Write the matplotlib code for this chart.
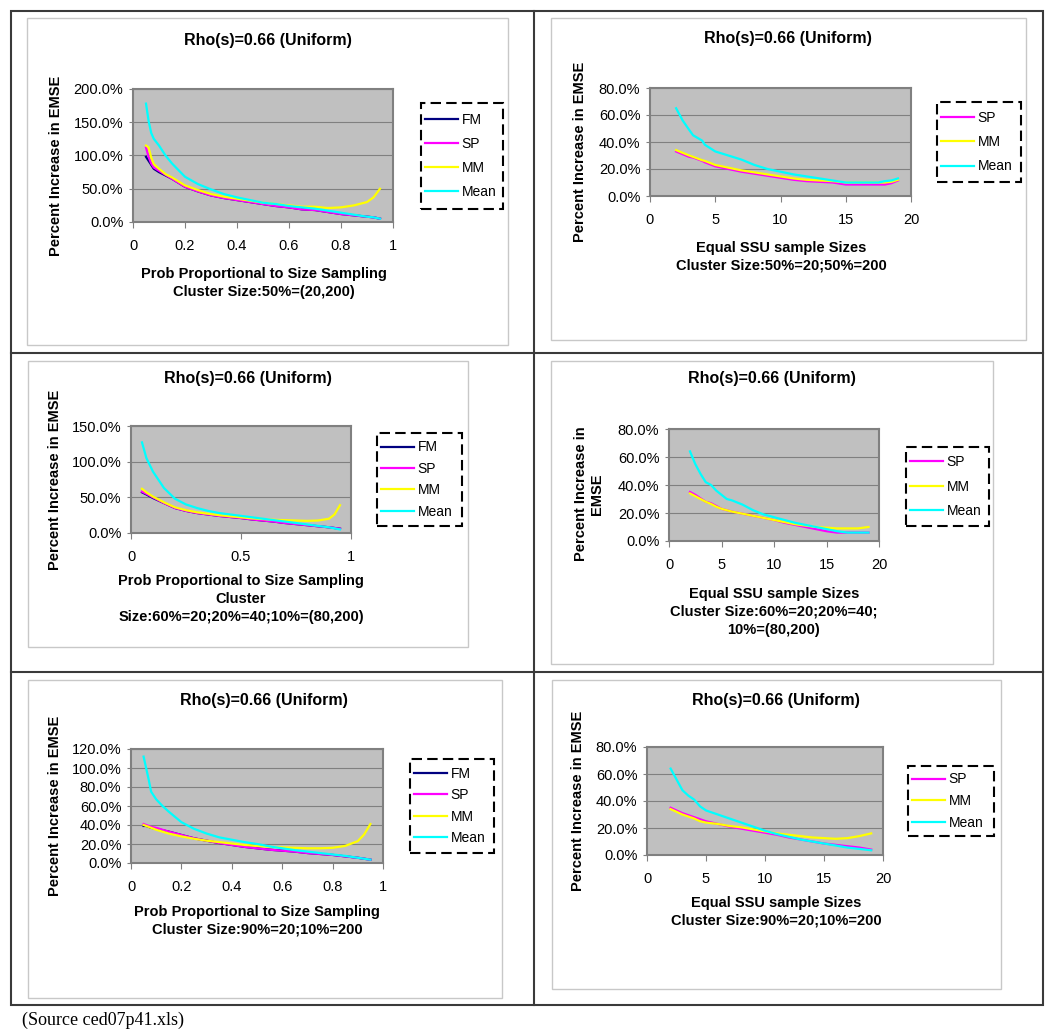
import matplotlib
matplotlib.use("Agg")
import numpy as np
import matplotlib.pyplot as plt
from matplotlib.patches import Rectangle
from matplotlib.lines import Line2D
from matplotlib.ticker import FuncFormatter

plt.rcParams["font.family"] = ["Liberation Sans", "DejaVu Sans"]

# ---- data (percent increase in EMSE) ----
# PPS panels, x = sampling fraction
p1_x = [0.05, 0.06, 0.07, 0.08, 0.1, 0.125, 0.15, 0.175, 0.2, 0.25, 0.3, 0.35, 0.4,
        0.45, 0.5, 0.55, 0.6, 0.65, 0.7, 0.75, 0.8, 0.85, 0.9, 0.925, 0.95]
p1_fm = [98, 92, 86, 80, 75, 70, 65, 59, 53, 46, 40, 36, 33, 30, 27, 24, 22, 19, 18, 15, 12, 10, 8, 7, 5]
p1_sp = [112, 98, 88, 82, 77, 71, 65, 59, 53, 46, 40, 36, 33, 30, 27, 24, 22, 19, 18, 15, 12, 10, 8, 7, 5]
p1_mm = [115, 112, 97, 87, 80, 72, 67, 61, 55, 48, 42, 38, 35, 32, 29, 27, 25, 23, 23, 21, 22, 25, 30, 37, 50]
p1_mean = [178, 152, 134, 125, 115, 100, 88, 78, 68, 57, 49, 42, 37, 33, 29, 27, 24, 22, 20, 17, 14, 11, 8, 7, 5]

p3_x = [0.05, 0.07, 0.1, 0.15, 0.2, 0.25, 0.3, 0.35, 0.4, 0.45, 0.5, 0.55, 0.6, 0.65,
        0.7, 0.75, 0.8, 0.85, 0.9, 0.925, 0.95]
p3_fm = [57, 54, 49, 42, 35, 31, 28, 26, 24, 22.5, 21, 19, 17.5, 16, 14, 12.5, 11, 9.5, 8, 7, 6]
p3_sp = [58, 55, 50, 42, 35, 31, 28, 26, 24, 22.5, 21, 19, 17.5, 16, 14, 12.5, 11, 9.5, 8, 7, 6]
p3_mm = [62, 57, 51, 43, 36, 32, 29, 27, 25, 23.5, 22, 20.5, 19.5, 18.5, 18, 17.5, 17, 17.5, 20, 26, 39]
p3_mean = [127, 105, 86, 63, 48, 40, 35, 31, 28, 26, 24, 22, 20, 18, 16, 14, 12, 10, 8, 6.5, 5]

p5_x = [0.05, 0.06, 0.07, 0.08, 0.1, 0.125, 0.15, 0.2, 0.25, 0.3, 0.35, 0.4, 0.45, 0.5,
        0.55, 0.6, 0.65, 0.7, 0.75, 0.8, 0.85, 0.9, 0.925, 0.95]
p5_fm = [39, 39, 38, 37, 36, 34.5, 33, 29.5, 26, 23.5, 21, 19, 17, 15.5, 14, 13, 12, 10.5, 9.5, 8.5, 7, 5.5, 4.5, 3.5]
p5_sp = [41, 40, 39, 38, 37, 35, 33, 29.5, 26, 23.5, 21, 19, 17, 15.5, 14, 13, 12, 10.5, 9.5, 8.5, 7, 5.5, 4.5, 3.5]
p5_mm = [40, 39, 38, 37, 35, 33, 31, 28, 25.5, 23.5, 22, 20.5, 19, 18, 17, 16.5, 16, 15.5, 15.5, 16, 18, 23, 30, 41]
p5_mean = [112, 100, 88, 75, 67, 60, 54, 43, 36, 31, 27, 24.5, 22, 20, 17.5, 15.5, 13.5, 12, 10.5, 9, 7.5, 5.5, 4.5, 3.5]

# equal SSU panels, x = SSU sample size
p2_x = [2, 2.5, 3, 3.3, 4, 4.2, 5, 6, 7, 8, 9, 10, 11, 12, 13, 14, 15, 16, 17, 17.5, 18, 18.5, 19]
p2_sp = [33, 31, 29, 28.5, 26, 25, 22, 20, 18, 16.5, 15, 13.5, 12, 11, 10.5, 10, 8.5, 8.5, 8.5, 8.5, 8.5, 9.5, 11.5]
p2_mm = [34, 32, 30, 29, 26.5, 26, 23, 21, 19, 17.5, 16, 14.5, 13, 12, 11.5, 11, 10, 10, 10, 10, 10, 10.5, 12]
p2_mean = [65, 56, 49, 45, 41, 38, 33, 30, 27, 23, 20, 18, 16, 14.5, 13, 11.5, 10, 10, 10, 10, 11, 11.5, 13]

p4_x = [2, 2.5, 3, 3.5, 4, 4.5, 5, 5.5, 6, 7, 8, 9, 10, 11, 12, 13, 14, 15, 16, 17, 17.5, 18, 19]
p4_sp = [35, 33, 30.5, 28, 27, 25, 23, 22, 21, 19.5, 18, 16.5, 15, 13, 11.5, 10, 8.5, 7, 6, 6, 6, 6, 6]
p4_mm = [34, 32, 30, 28, 26.5, 24.5, 23, 22, 21, 19.5, 18, 16.5, 15, 13.5, 12, 11, 10, 9.5, 9, 9, 9, 9, 10]
p4_mean = [64, 55, 48, 42, 40, 36, 33, 30, 29, 26, 22, 19, 17, 15, 13, 11.5, 10, 8.5, 7, 6, 6, 6, 6]

p6_x = [2, 2.5, 3, 3.5, 4, 4.5, 5, 6, 7, 8, 9, 10, 11, 12, 13, 14, 15, 16, 17, 18, 19]
p6_sp = [35, 33, 31, 29.5, 28, 26.5, 25, 23, 21, 19.5, 18, 16.5, 15, 13, 11.5, 10, 8.5, 7.5, 6.5, 5.5, 4]
p6_mm = [34, 32, 30, 28.5, 27, 25, 24, 23, 21.5, 20.5, 19, 17.5, 16, 15, 14, 13, 12.5, 12, 12.5, 14, 16]
p6_mean = [64, 56, 48, 44, 41, 36, 33, 30, 27, 24, 21, 18, 15.5, 13.5, 11.5, 10, 8.5, 7, 5.5, 4.5, 3.5]

title = "Rho(s)=0.66 (Uniform)"
ylab = "Percent Increase in EMSE"
colors = {"FM": "#000080", "SP": "#FF00FF", "MM": "#FFFF00", "Mean": "#00FFFF"}

W, H = 1050, 1032
fig = plt.figure(figsize=(W / 100, H / 100), dpi=100)


def fx(px):
    return px / W


def fy(py):
    return 1 - py / H


def rect(x0, y0, x1, y1, **kw):
    fig.add_artist(Rectangle((fx(x0), fy(y1)), fx(x1) - fx(x0), fy(y0) - fy(y1),
                             transform=fig.transFigure, fill=False, **kw))


# table grid
tc = "#3a3a3a"
rect(11, 11, 1043, 1005, ec=tc, lw=1.5)
for seg in [((534, 534), (11, 1005)), ((11, 1043), (353, 353)), ((11, 1043), (672, 672))]:
    fig.add_artist(Line2D([fx(v) for v in seg[0]], [fy(v) for v in seg[1]], color=tc, lw=1.5))

panels = [
    dict(box=(27, 18, 508, 345), plot=(133, 89, 393, 222), xlim=(0, 1), xstep=0.2, ylim=200, ystep=50,
         series=[("FM", p1_x, p1_fm), ("SP", p1_x, p1_sp), ("MM", p1_x, p1_mm), ("Mean", p1_x, p1_mean)],
         title=(268, 40), ylabel=(ylab, 56, 166), xlabel=("Prob Proportional to Size Sampling\nCluster Size:50%=(20,200)", 264, 283),
         leg=(421, 103, 503, 209), lspace=0.72),
    dict(box=(551, 18, 1026, 340), plot=(650, 88, 911, 196), xlim=(0, 20), xstep=5, ylim=80, ystep=20,
         series=[("SP", p2_x, p2_sp), ("MM", p2_x, p2_mm), ("Mean", p2_x, p2_mean)],
         title=(788, 39), ylabel=(ylab, 580, 152), xlabel=("Equal SSU sample Sizes\nCluster Size:50%=20;50%=200", 781, 257),
         leg=(937, 102, 1021, 182), lspace=0.75),
    dict(box=(28, 361, 468, 647), plot=(131, 426, 351, 533), xlim=(0, 1), xstep=0.5, ylim=150, ystep=50,
         series=[("FM", p3_x, p3_fm), ("SP", p3_x, p3_sp), ("MM", p3_x, p3_mm), ("Mean", p3_x, p3_mean)],
         title=(248, 379), ylabel=(ylab, 55, 480),
         xlabel=("Prob Proportional to Size Sampling\nCluster\nSize:60%=20;20%=40;10%=(80,200)", 241, 599),
         leg=(377, 433, 462, 526), lspace=0.53),
    dict(box=(551, 361, 993, 664), plot=(669, 429, 879, 541), xlim=(0, 20), xstep=5, ylim=80, ystep=20,
         series=[("SP", p4_x, p4_sp), ("MM", p4_x, p4_mm), ("Mean", p4_x, p4_mean)],
         title=(772, 379), ylabel=("Percent Increase in\nEMSE", 589, 494),
         xlabel=("Equal SSU sample Sizes\nCluster Size:60%=20;20%=40;\n10%=(80,200)", 774, 612),
         leg=(906, 447, 989, 526), lspace=0.78),
    dict(box=(28, 680, 502, 998), plot=(131, 749, 383, 863), xlim=(0, 1), xstep=0.2, ylim=120, ystep=20,
         series=[("FM", p5_x, p5_fm), ("SP", p5_x, p5_sp), ("MM", p5_x, p5_mm), ("Mean", p5_x, p5_mean)],
         title=(264, 701), ylabel=(ylab, 55, 806),
         xlabel=("Prob Proportional to Size Sampling\nCluster Size:90%=20;10%=200", 257, 921),
         leg=(410, 759, 494, 853), lspace=0.53),
    dict(box=(552, 680, 1001, 989), plot=(647, 747, 883, 855), xlim=(0, 20), xstep=5, ylim=80, ystep=20,
         series=[("SP", p6_x, p6_sp), ("MM", p6_x, p6_mm), ("Mean", p6_x, p6_mean)],
         title=(776, 700), ylabel=(ylab, 578, 801),
         xlabel=("Equal SSU sample Sizes\nCluster Size:90%=20;10%=200", 776, 912),
         leg=(908, 766, 994, 836), lspace=0.55),
]

for p in panels:
    rect(*p["box"], ec="#c8c8c8", lw=1.0)
    x0, y0, x1, y1 = p["plot"]
    ax = fig.add_axes([fx(x0), fy(y1), fx(x1) - fx(x0), fy(y0) - fy(y1)])
    ax.set_facecolor("#C0C0C0")
    handles = []
    for name, xs, ys in p["series"]:
        ln, = ax.plot(xs, ys, color=colors[name], lw=1.6, solid_joinstyle="round", label=name)
        handles.append(ln)
    ax.set_xlim(*p["xlim"])
    ax.set_ylim(0, p["ylim"])
    ax.set_xticks(np.arange(p["xlim"][0], p["xlim"][1] + 1e-9, p["xstep"]))
    ax.set_yticks(np.arange(0, p["ylim"] + 1e-9, p["ystep"]))
    ax.xaxis.set_major_formatter(FuncFormatter(lambda v, pos: f"{round(v, 2):g}"))
    ax.yaxis.set_major_formatter(FuncFormatter(lambda v, pos: f"{v:.1f}%"))
    ax.grid(axis="y", color="#808080", lw=0.8)
    ax.set_axisbelow(True)
    for s in ax.spines.values():
        s.set_color("#808080")
        s.set_linewidth(1.5)
    ax.tick_params(axis="x", direction="out", length=4, color="#808080", labelsize=10.5, pad=8)
    ax.tick_params(axis="y", direction="out", length=3, color="#808080", labelsize=10.5, pad=4)

    fig.text(fx(p["title"][0]), fy(p["title"][1]), title, ha="center", va="center",
             fontsize=11.5, fontweight="bold")
    text, lx, ly = p["ylabel"]
    fig.text(fx(lx), fy(ly), text, ha="center", va="center", rotation=90,
             fontsize=10.5, fontweight="bold", linespacing=1.1)
    text, lx, ly = p["xlabel"]
    fig.text(fx(lx), fy(ly), text, ha="center", va="center", fontsize=10.5,
             fontweight="bold", linespacing=1.35)

    lx0, ly0, lx1, ly1 = p["leg"]
    rect(lx0, ly0, lx1, ly1, ec="black", lw=1.5, ls=(0, (5, 2.5)))
    ax.legend(handles, [h.get_label() for h in handles], loc="center left",
              bbox_to_anchor=(fx(lx0 + 4), fy((ly0 + ly1) / 2)), bbox_transform=fig.transFigure,
              frameon=False, fontsize=10, handlelength=2.4, handletextpad=0.25,
              labelspacing=p["lspace"], borderpad=0, borderaxespad=0)

fig.text(fx(22), fy(1020), "(Source ced07p41.xls)", family=["Liberation Serif", "DejaVu Serif"],
         fontsize=13, ha="left", va="center")

fig.savefig("out.png", dpi=100)
